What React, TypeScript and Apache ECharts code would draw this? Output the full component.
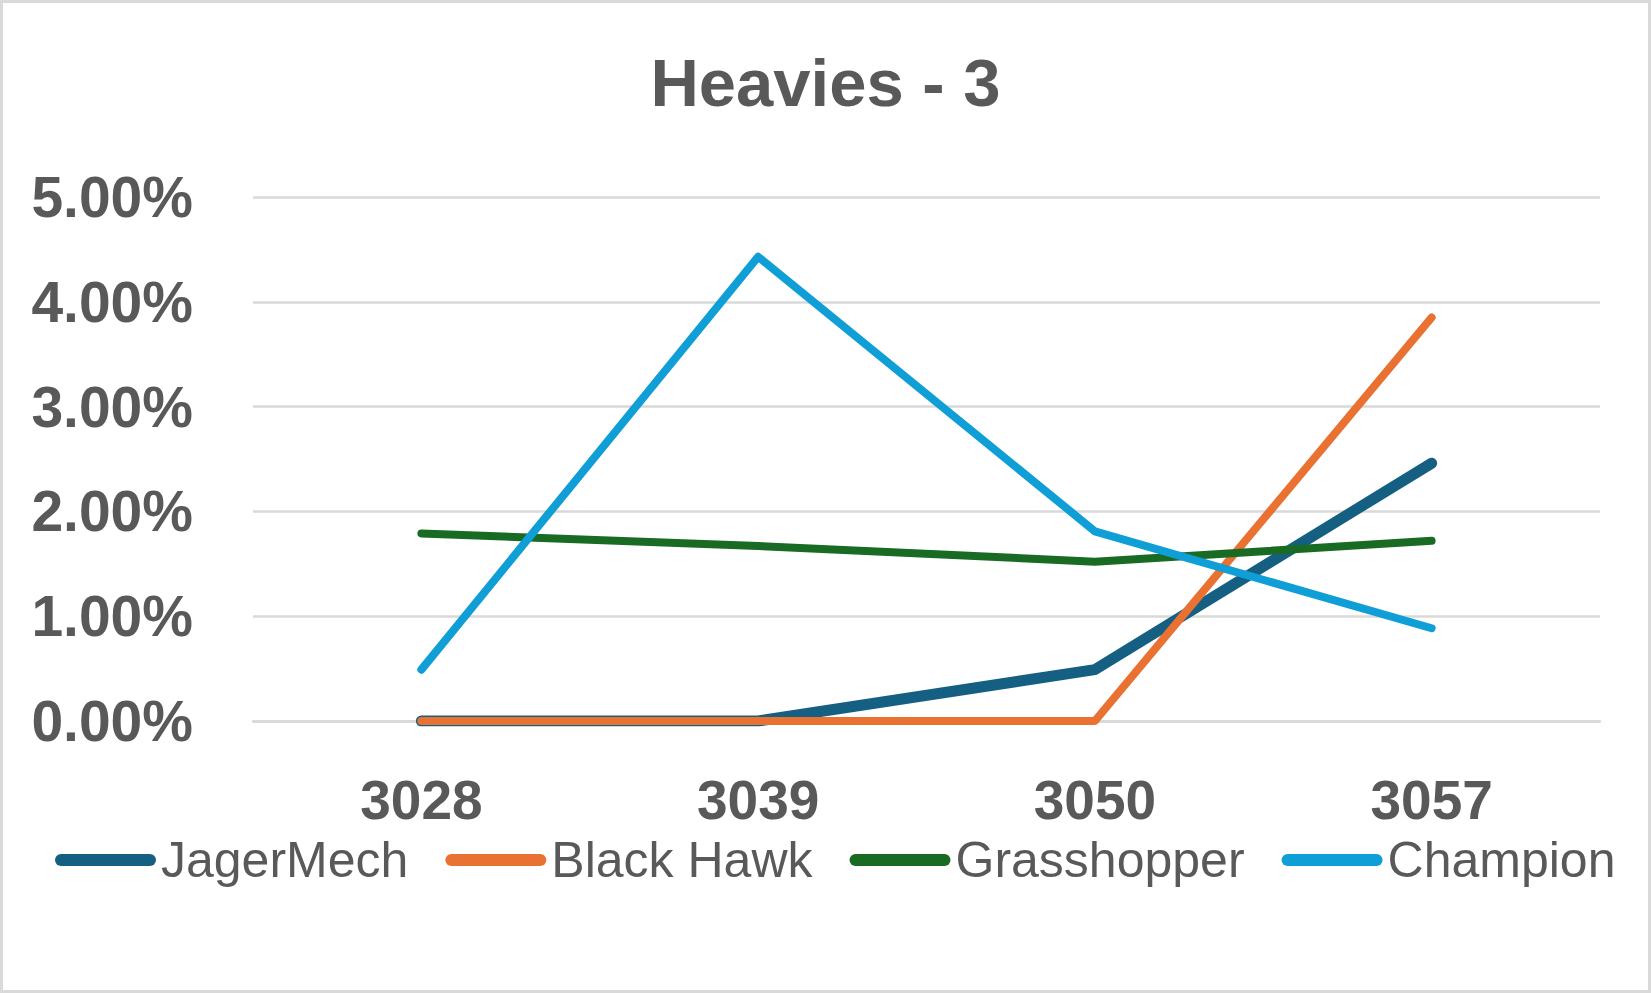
import React, { useEffect, useRef } from "react";
import * as echarts from "echarts";

const categories = ["3028", "3039", "3050", "3057"];
const jagerMech = [0, 0, 0.49, 2.46];
const blackHawk = [0, 0, 0, 3.85];
const grasshopper = [1.79, 1.67, 1.52, 1.72];
const champion = [0.49, 4.43, 1.81, 0.885];
const seriesNames = ["JagerMech", "Black Hawk", "Grasshopper", "Champion"];
const seriesColors = ["#156082", "#E97132", "#196B24", "#0F9ED5"];
const seriesWidths = [11, 8, 8, 8];
const yTicks = { min: 0, max: 5, interval: 1 };

const TEXT = "#595959";
const pill = "path://M6,0 L95,0 A6,6 0 0 1 95,12 L6,12 A6,6 0 0 1 6,0 Z";

export default function App() {
  const ref = useRef<HTMLDivElement>(null);
  useEffect(() => {
    if (!ref.current) return;
    const chart = echarts.init(ref.current, null, { renderer: "svg" });
    const values = [jagerMech, blackHawk, grasshopper, champion];
    chart.setOption({
      animation: false,
      backgroundColor: "#ffffff",
      title: {
        text: "Heavies - 3",
        left: "center",
        top: 44,
        textStyle: {
          fontFamily: "Liberation Sans, Arial, sans-serif",
          fontWeight: "bold",
          fontSize: 67,
          color: TEXT,
        },
      },
      legend: {
        left: 50,
        top: 830,
        itemWidth: 101,
        itemHeight: 12,
        itemGap: 37,
        textStyle: {
          fontFamily: "Liberation Sans, Arial, sans-serif",
          fontSize: 50,
          color: TEXT,
          lineHeight: 50,
        },
        data: seriesNames.map((n, i) => ({
          name: n,
          icon: pill,
          itemStyle: { color: seriesColors[i] },
        })),
      },
      grid: { left: 253, right: 51, top: 197, bottom: 272 },
      xAxis: {
        type: "category",
        data: categories,
        boundaryGap: true,
        axisLine: { show: true, lineStyle: { color: "#d9d9d9", width: 2.5 } },
        axisTick: { show: false },
        axisLabel: {
          margin: 51,
          fontFamily: "Liberation Sans, Arial, sans-serif",
          fontWeight: "bold",
          fontSize: 55,
          color: TEXT,
        },
      },
      yAxis: {
        type: "value",
        min: yTicks.min,
        max: yTicks.max,
        interval: yTicks.interval,
        axisLine: { show: false },
        axisTick: { show: false },
        splitLine: { lineStyle: { color: "#d9d9d9", width: 2.5 } },
        axisLabel: {
          margin: 60,
          fontFamily: "Liberation Sans, Arial, sans-serif",
          fontWeight: "bold",
          fontSize: 57,
          color: TEXT,
          formatter: (v: number) => v.toFixed(2) + "%",
        },
      },
      graphic: [
        {
          type: "rect",
          shape: { x: 1.5, y: 1.5, width: 1648, height: 990 },
          style: { fill: "none", stroke: "#d9d9d9", lineWidth: 3 },
          silent: true,
          z: 100,
        },
      ],
      series: seriesNames.map((n, i) => ({
        name: n,
        type: "line",
        data: values[i],
        symbol: "none",
        color: seriesColors[i],
        lineStyle: { width: seriesWidths[i], color: seriesColors[i], cap: "round", join: "round" },
      })),
    });
    return () => chart.dispose();
  }, []);
  return (
    <div
      ref={ref}
      style={{ position: "fixed", left: 0, top: 0, width: 1651, height: 993 }}
    />
  );
}
